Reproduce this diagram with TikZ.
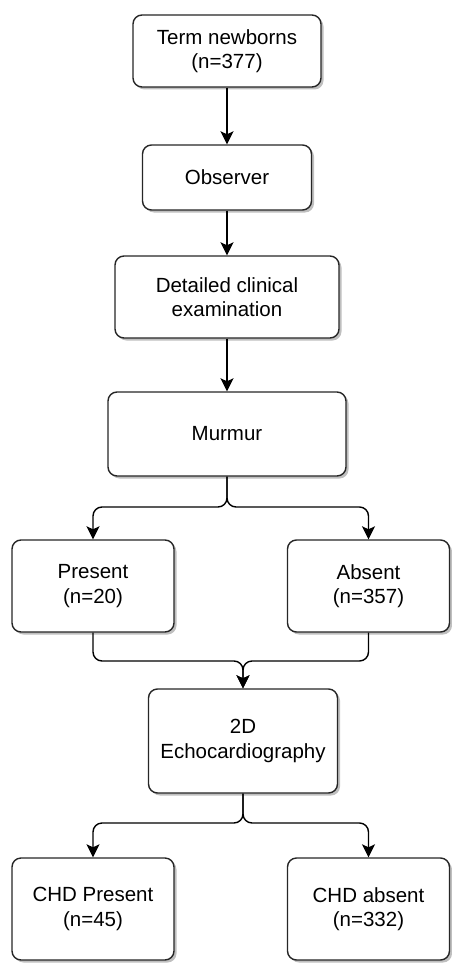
\documentclass[tikz,border=0pt]{standalone}
\usepackage{fontspec}
\setmainfont{Liberation Sans}
\usetikzlibrary{arrows.meta,shadows}
\begin{document}
\begin{tikzpicture}[x=1pt,y=-1pt,
  box/.style={draw=black!85, line width=1.4pt, rounded corners=9pt, fill=white,
    align=center, font=\fontsize{20.5}{24.5}\selectfont, inner sep=0pt,
    drop shadow={opacity=0.25, shadow xshift=2.5pt, shadow yshift=-2.5pt, fill=black}},
  arr/.style={line width=1.4pt, -{Stealth[length=13pt,width=13pt,inset=3pt]}},
  link/.style={line width=1.4pt, rounded corners=9pt}
]
\useasboundingbox (0,0) rectangle (452,963);
\node[box, minimum width=188pt, minimum height=72pt] (term) at (227,51) {Term newborns\\(n=377)};
\node[box, minimum width=169pt, minimum height=65pt] (obs) at (227,177.5) {Observer};
\node[box, minimum width=224pt, minimum height=82pt] (det) at (227,297) {Detailed clinical\\examination};
\node[box, minimum width=238pt, minimum height=84pt] (mur) at (227,434) {Murmur};
\node[box, minimum width=162pt, minimum height=92pt] (pres) at (93,586) {Present\\(n=20)};
\node[box, minimum width=162pt, minimum height=92pt] (abs) at (368.5,586) {Absent\\(n=357)};
\node[box, minimum width=189pt, minimum height=104pt] (echo) at (243,741) {2D\\Echocardiography};
\node[box, minimum width=162pt, minimum height=102pt] (chdp) at (93,909) {CHD Present\\(n=45)};
\node[box, minimum width=162pt, minimum height=102pt] (chda) at (368.5,909) {CHD absent\\(n=332)};

\coordinate (b1) at (227,507);
\coordinate (m1) at (243,661);
\coordinate (b2) at (243,823);

\draw[arr] (term.south) -- (obs.north);
\draw[arr] (obs.south) -- (det.north);
\draw[arr] (det.south) -- (mur.north);
\draw[arr, link] (mur.south) -- (b1) -| (pres.north);
\draw[arr, link] (mur.south) -- (b1) -| (abs.north);
\draw[arr, link] (pres.south) |- (m1) -- (echo.north);
\draw[arr, link] (abs.south) |- (m1) -- (echo.north);
\draw[arr, link] (echo.south) -- (b2) -| (chdp.north);
\draw[arr, link] (echo.south) -- (b2) -| (chda.north);
\end{tikzpicture}
\end{document}
